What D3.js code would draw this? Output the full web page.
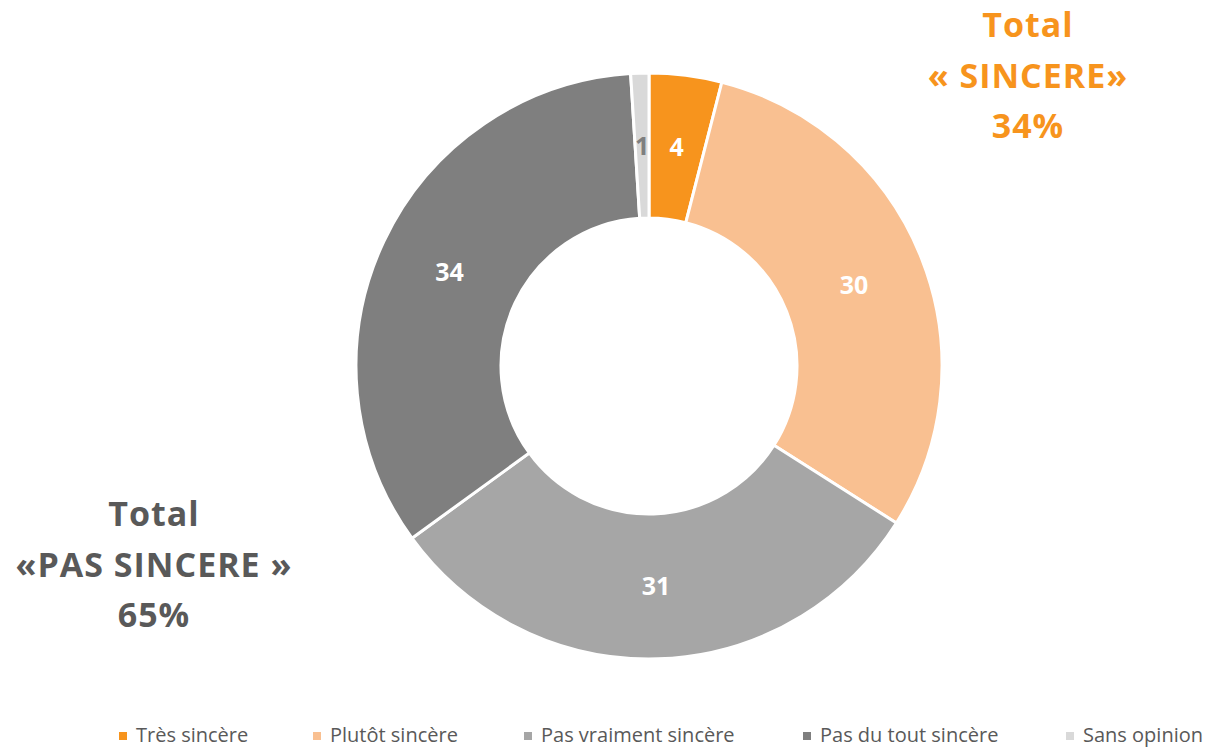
<!DOCTYPE html>
<html>
<head>
<meta charset="utf-8">
<script src="https://cdn.jsdelivr.net/npm/d3@7"></script>
<style>
  body { margin: 0; background: #fff; }
  svg { display: block; font-family: "Open Sans", Lato, sans-serif; }
</style>
</head>
<body>
<svg id="chart" width="1209" height="747"></svg>
<script>
var categories = ["Très sincère", "Plutôt sincère", "Pas vraiment sincère", "Pas du tout sincère", "Sans opinion"];
var values = [4, 30, 31, 34, 1];
var colors = ["#F7941D", "#F9C091", "#A6A6A6", "#7F7F7F", "#D9D9D9"];
var labelColors = ["#fff", "#fff", "#fff", "#fff", "#7F7F7F"];
var totalSincere = ["Total", "« SINCERE»", "34%"];
var totalPasSincere = ["Total", "«PAS SINCERE »", "65%"];

var svg = d3.select("#chart");
var cx = 649, cy = 366,
    outer = 293, inner = 148;

var pie = d3.pie().sort(null).value(function (d) { return d; });
var arc = d3.arc().innerRadius(inner).outerRadius(outer);
var labelArc = d3.arc().innerRadius((inner + outer) / 2).outerRadius((inner + outer) / 2);

var g = svg.append("g").attr("transform", "translate(" + cx + "," + cy + ")");
var arcs = pie(values);

g.selectAll("path.slice")
    .data(arcs)
    .enter().append("path")
    .attr("class", "slice")
    .attr("d", arc)
    .attr("fill", function (d, i) { return colors[i]; })
    .attr("stroke", "#fff")
    .attr("stroke-width", 3);

g.selectAll("text.val")
    .data(arcs)
    .enter().append("text")
    .attr("class", "val")
    .attr("transform", function (d) { return "translate(" + labelArc.centroid(d) + ")"; })
    .attr("text-anchor", "middle")
    .attr("dy", "0.36em")
    .attr("font-size", 25)
    .attr("font-weight", "bold")
    .attr("fill", function (d, i) { return labelColors[i]; })
    .text(function (d) { return d.data; });

// totals
function totalBlock(lines, x, y0, color) {
    svg.append("g").selectAll("text")
        .data(lines)
        .enter().append("text")
        .attr("x", x)
        .attr("y", function (d, i) { return y0 + i * 50.5; })
        .attr("text-anchor", "middle")
        .attr("font-size", 34)
        .attr("font-weight", "bold")
        .attr("letter-spacing", 1)
        .attr("fill", color)
        .text(function (d) { return d; });
}
totalBlock(totalSincere, 1028, 37, "#F7941D");
totalBlock(totalPasSincere, 154, 526, "#595959");

// legend
var legendX = [119, 313, 524, 803, 1066];
var legend = svg.append("g").selectAll("g")
    .data(categories)
    .enter().append("g")
    .attr("transform", function (d, i) { return "translate(" + legendX[i] + ",742)"; });
legend.append("rect")
    .attr("x", 0).attr("y", -10)
    .attr("width", 8).attr("height", 8)
    .attr("fill", function (d, i) { return colors[i]; });
legend.append("text")
    .attr("x", 17)
    .attr("font-size", 20)
    .attr("fill", "#595959")
    .text(function (d) { return d; });
</script>
</body>
</html>
